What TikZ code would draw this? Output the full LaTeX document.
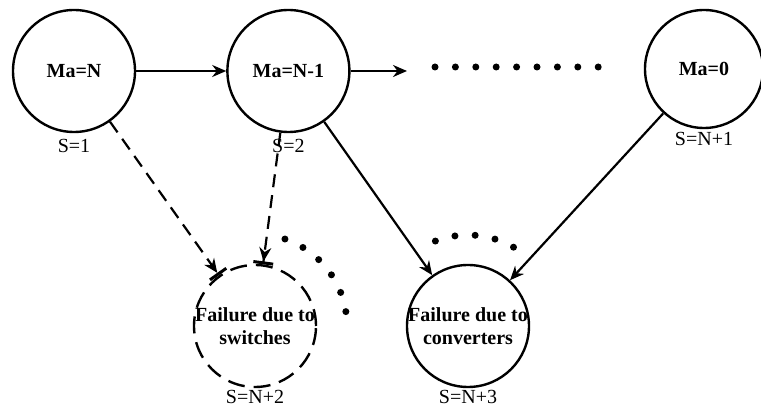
\documentclass[tikz,border=0pt]{standalone}
\usepackage{fontspec}
\setmainfont{Liberation Serif}
\usetikzlibrary{arrows.meta,positioning}
\tikzset{
  %% state circle
  st/.style={circle,draw,line width=2.4pt,minimum size=122pt,inner sep=0pt,
    font=\fontsize{20}{23}\selectfont\bfseries,align=center},
  %% absorbing (failure) state, text laid over the circle
  fst/.style={st,label={[ftxt]center:#1}},
  ftxt/.style={font=\fontsize{20}{23}\selectfont\bfseries,align=center,inner sep=0pt},
  %% state index below a circle
  lbl/.style={font=\fontsize{20}{22}\selectfont,inner sep=0pt},
  %% arrows
  arr/.style={-{Stealth[length=14pt,width=12pt]},line width=2.2pt},
  darr/.style={-{Stealth[length=14pt,width=12pt]Bar[width=20pt,line width=3pt]},
    line width=2.2pt,dash pattern=on 13pt off 8pt},
  dot/.style={fill=black},
}
\begin{document}
\begin{tikzpicture}[x=1pt,y=1pt]
  \useasboundingbox (0,0) rectangle (761,410);

  %% top row
  \node[st] (man) at (74,339) {Ma=N};
  \node[st,right=90pt of man] (man1) {Ma=N-1};
  \node[st,minimum size=118pt] (ma0) at (704,341) {Ma=0};
  \coordinate (cont) at (407,339);

  %% failure states
  \node[fst={Failure due to\\switches},dash pattern=on 17pt off 9pt] (sw) at (255,84) {};
  \node[fst={Failure due to\\converters}] (cv) at (468,84) {};

  %% state numbers
  \node[lbl,below=6pt of man]  (s1) {S=1};
  \node[lbl,below=6pt of man1] (s2) {S=2};
  \node[lbl,below=3pt of ma0]  (s3) {S=N+1};
  \node[lbl,below=2pt of sw]   (s4) {S=N+2};
  \node[lbl,below=2pt of cv]   (s5) {S=N+3};

  %% transitions
  \draw[arr] (man) -- (man1);
  \draw[arr] (man1) -- (cont);
  \draw[arr] (man1) -- (cv);
  \draw[arr] (ma0) -- (cv);
  \draw[darr] (man) -- (sw);
  \draw[darr] (man1) -- (sw);

  %% dots for the omitted states
  \foreach \i in {0,...,8}
    \fill[dot] (435+20.4*\i,343) circle (3.5pt);
  \foreach \k in {0,...,5}
    \fill[dot,shift={(sw)}] ({71-12.4*\k}:92) circle (3.5pt);
  \foreach \k in {0,...,4}
    \fill[dot,shift={(cv)}] ({111-12.75*\k}:91) circle (3.5pt);

\end{tikzpicture}
\end{document}
